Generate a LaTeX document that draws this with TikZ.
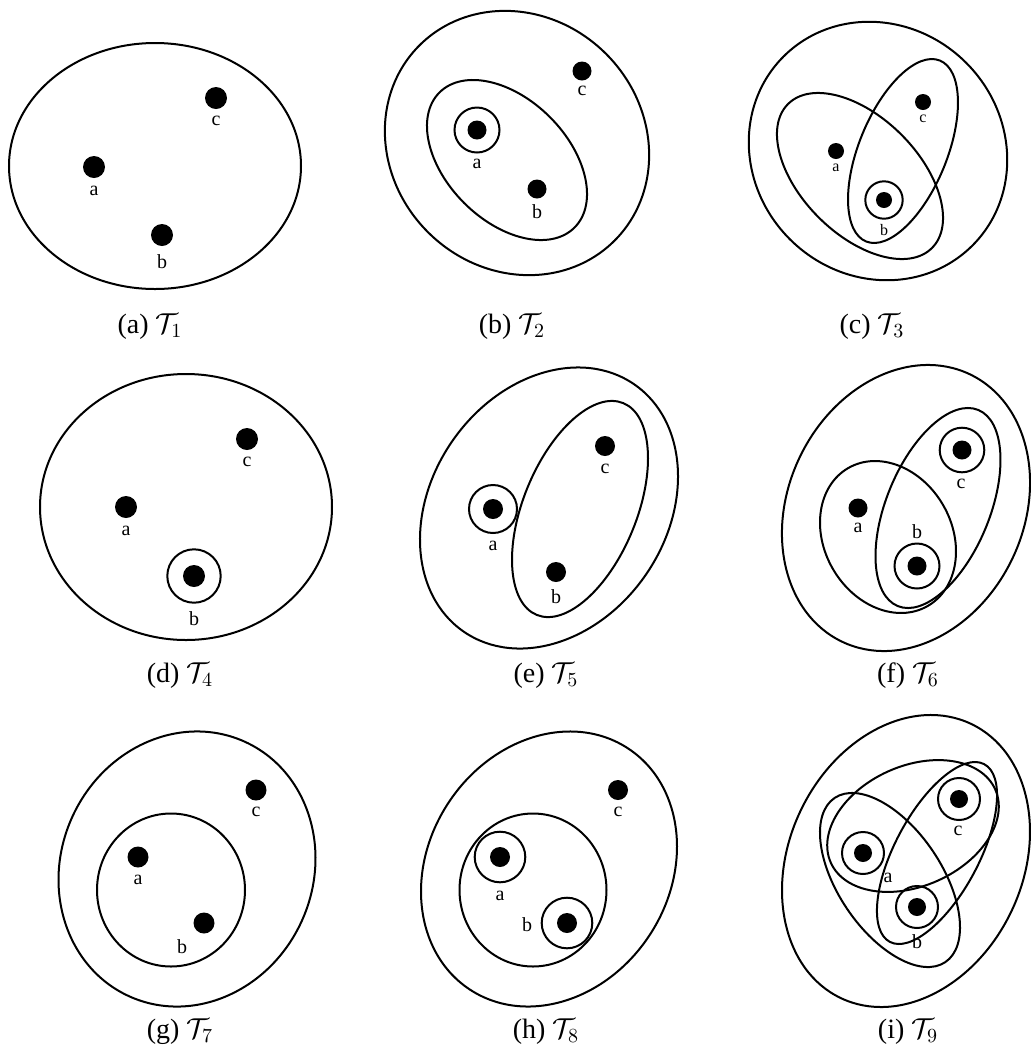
\documentclass[tikz,border=0pt]{standalone}
\usepackage{fontspec}
\setmainfont{Liberation Serif}
\begin{document}
\begin{tikzpicture}[x=0.5pt,y=0.5pt,
  outl/.style={line width=1pt},
  bdot/.style={circle, fill=black, inner sep=0pt, minimum size=#1},
  ringnode/.style={circle, draw, line width=1pt, inner sep=0pt, minimum size=#1},
  lab/.style={font=\fontsize{10}{12}\selectfont, inner sep=0pt},
  slab/.style={font=\fontsize{8}{10}\selectfont, inner sep=0pt},
  captext/.style={font=\fontsize{14}{16}\selectfont, anchor=base, inner sep=0pt}]
\useasboundingbox (0,0) rectangle (1030,-1046);
\newcommand{\myell}[5]{\draw[outl, rotate around={#5:(#1,-#2)}] (#1,-#2) ellipse [x radius=#3, y radius=#4];}

% (a)
\myell{155}{166}{146}{123}{0}
\node[bdot=11pt] (a1) at (94,-167) {};
\node[bdot=11pt] (b1) at (162,-235) {};
\node[bdot=11pt] (c1) at (216,-98) {};
\node[lab] (la1) at (94,-191) {a};
\node[lab] (lb1) at (162,-262) {b};
\node[lab] (lc1) at (216,-121) {c};
\node[captext] (cap1) at (150,-333) {(a) $\mathcal{T}_1$};

% (b)
\myell{517}{143}{138}{126}{-45}
\myell{507}{160}{95.5}{60.7}{-45}
\node[ringnode=22.5pt] (ra2) at (477,-130) {};
\node[bdot=9.5pt] (a2) at (477,-130) {};
\node[bdot=9.5pt] (b2) at (537,-189) {};
\node[bdot=9.5pt] (c2) at (582,-71) {};
\node[lab] (la2) at (477,-164) {a};
\node[lab] (lb2) at (537,-212) {b};
\node[lab] (lc2) at (582,-91) {c};
\node[captext] (cap2) at (512,-333) {(b) $\mathcal{T}_2$};

% (c)
\myell{878}{151}{133.6}{124.7}{-45}
\myell{860}{176}{101.8}{58.5}{-45}
\myell{903}{151}{97.7}{44}{67.8}
\node[ringnode=18.7pt] (rb3) at (884,-200) {};
\node[bdot=8pt] (b3) at (884,-200) {};
\node[bdot=8pt] (a3) at (836,-151) {};
\node[bdot=8pt] (c3) at (923,-102) {};
\node[slab] (la3) at (836,-168) {a};
\node[slab] (lb3) at (884,-230) {b};
\node[slab] (lc3) at (923,-119) {c};
\node[captext] (cap3) at (872,-333) {(c) $\mathcal{T}_3$};

% (d)
\myell{186}{507}{146}{133}{0}
\node[ringnode=26.7pt] (rb4) at (194,-576) {};
\node[bdot=11pt] (b4) at (194,-576) {};
\node[bdot=11pt] (a4) at (126,-507) {};
\node[bdot=11pt] (c4) at (247,-439) {};
\node[lab] (la4) at (126,-531) {a};
\node[lab] (lb4) at (194,-619) {b};
\node[lab] (lc4) at (247,-462) {c};
\node[captext] (cap4) at (180,-682) {(d) $\mathcal{T}_4$};

% (e)
\myell{549}{508}{150.2}{117.6}{55.4}
\myell{580}{509}{114.4}{56.7}{67.8}
\node[ringnode=24pt] (ra5) at (493,-509) {};
\node[bdot=10pt] (a5) at (493,-509) {};
\node[bdot=10pt] (b5) at (556,-572) {};
\node[bdot=10pt] (c5) at (605,-446) {};
\node[lab] (la5) at (493,-546) {a};
\node[lab] (lb5) at (556,-597) {b};
\node[lab] (lc5) at (605,-469) {c};
\node[captext] (cap5) at (546,-682) {(e) $\mathcal{T}_5$};

% (f)
\myell{906}{508}{148.2}{117.8}{64.4}
\myell{888}{537}{79.6}{63.7}{-60.1}
\myell{938}{508}{106}{51.7}{67.7}
\node[ringnode=22.3pt] (rc6) at (962,-450) {};
\node[ringnode=22.5pt] (rb6) at (917,-566) {};
\node[bdot=9.5pt] (c6) at (962,-450) {};
\node[bdot=9.5pt] (b6) at (917,-566) {};
\node[bdot=9.5pt] (a6) at (858,-508) {};
\node[lab] (la6) at (858,-528) {a};
\node[lab] (lb6) at (917,-532) {b};
\node[lab] (lc6) at (961,-484) {c};
\node[captext] (cap6) at (908,-682) {(f) $\mathcal{T}_6$};

% (g)
\myell{187}{869}{139.8}{126}{65.5}
\myell{171}{890}{74}{76.5}{0}
\node[bdot=10.5pt] (a7) at (138,-857) {};
\node[bdot=10.5pt] (b7) at (204,-923) {};
\node[bdot=10.5pt] (c7) at (256,-790) {};
\node[lab] (la7) at (138,-880) {a};
\node[lab] (lb7) at (182,-947) {b};
\node[lab] (lc7) at (256,-812) {c};
\node[captext] (cap7) at (180,-1038) {(g) $\mathcal{T}_7$};

% (h)
\myell{549}{869}{144.2}{120.4}{56.8}
\myell{533}{890}{73.5}{76.5}{0}
\node[ringnode=25.3pt] (ra8) at (500,-857) {};
\node[ringnode=25.3pt] (rb8) at (567,-923) {};
\node[bdot=10pt] (a8) at (500,-857) {};
\node[bdot=10pt] (b8) at (567,-923) {};
\node[bdot=10pt] (c8) at (618,-790) {};
\node[lab] (la8) at (500,-896) {a};
\node[lab] (lb8) at (527,-925) {b};
\node[lab] (lc8) at (618,-812) {c};
\node[captext] (cap8) at (546,-1038) {(h) $\mathcal{T}_8$};

% (i)
\myell{906}{861}{151.8}{116.8}{64.6}
\myell{890}{880}{99}{51.7}{-56}
\myell{913}{826}{90}{60}{24}
\myell{937}{853}{100.6}{42}{62}
\node[ringnode=21pt] (ra9) at (863,-853) {};
\node[ringnode=21pt] (rb9) at (917,-907) {};
\node[ringnode=21pt] (rc9) at (959,-799) {};
\node[bdot=9pt] (a9) at (863,-853) {};
\node[bdot=9pt] (b9) at (917,-907) {};
\node[bdot=9pt] (c9) at (959,-799) {};
\node[lab] (la9) at (888,-878) {a};
\node[lab] (lb9) at (917,-942) {b};
\node[lab] (lc9) at (958,-831) {c};
\node[captext] (cap9) at (908,-1038) {(i) $\mathcal{T}_9$};
\end{tikzpicture}
\end{document}
